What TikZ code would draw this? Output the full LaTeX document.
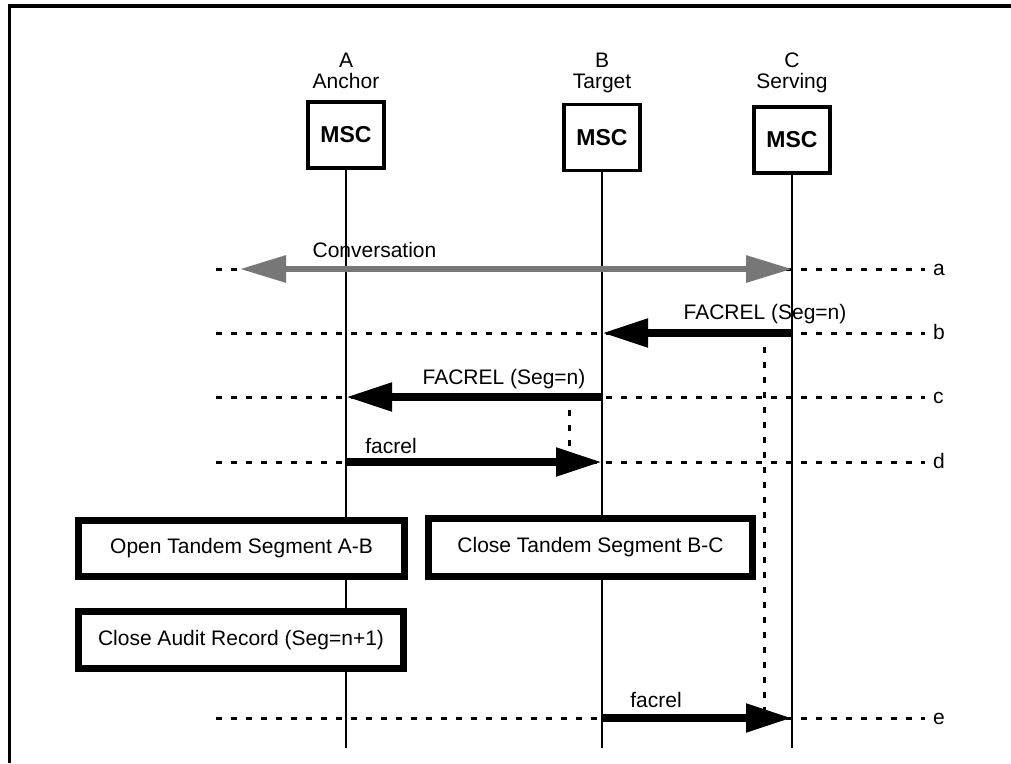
\documentclass[tikz,border=0pt]{standalone}
\usepackage{fontspec}
\setmainfont{Liberation Sans}
\usetikzlibrary{arrows.meta}
\definecolor{convgray}{RGB}{119,119,119}
\tikzset{
  msc/.style={draw, line width=3.5pt, fill=white, minimum width=76pt, minimum height=66pt,
    font=\fontsize{23}{23}\selectfont\bfseries},
  lifeline/.style={line width=2.2pt},
  rowline/.style={line width=3pt, dash pattern=on 6pt off 9pt},
  msg/.style={line width=8pt, -{Triangle[length=46pt,width=27pt]}},
  conv/.style={line width=6pt, draw=convgray,
    {Triangle[length=46pt,width=26pt]}-{Triangle[length=46pt,width=26pt]}},
  actionbox/.style={draw, line width=7.5pt, fill=white},
  txt/.style={anchor=base, inner sep=0pt},
}
\begin{document}
\begin{tikzpicture}[x=1pt, y=-1pt, font=\fontsize{21}{21}\selectfont]
  \useasboundingbox (0,0) rectangle (1011,763);
  % frame, top and left edges only
  \draw[line width=3.5pt] (9.5,763) -- (9.5,6) -- (1011,6);

  % the three MSCs
  \node[txt] (idA)   at (346,67) {A};
  \node[txt] (roleA) at (346,88) {Anchor};
  \node[txt] (idB)   at (602,67) {B};
  \node[txt] (roleB) at (602,88) {Target};
  \node[txt] (idC)   at (792,67) {C};
  \node[txt] (roleC) at (792,88) {Serving};
  \node[msc] (mscA) at (346,135)   {MSC};
  \node[msc] (mscB) at (602,137.5) {MSC};
  \node[msc] (mscC) at (792,140)   {MSC};

  % lifelines
  \coordinate (endA) at (346,748);
  \coordinate (endB) at (602,748);
  \coordinate (endC) at (792,748);
  \draw[lifeline] (mscA) -- (endA);
  \draw[lifeline] (mscB) -- (endB);
  \draw[lifeline] (mscC) -- (endC);

  % time rows a..e
  \foreach \r/\y in {a/269, b/333, c/397, d/462, e/718} {
    \coordinate (L\r) at (216,\y);
    \coordinate (R\r) at (925,\y);
    \coordinate (A\r) at (346,\y);
    \coordinate (B\r) at (602,\y);
    \coordinate (C\r) at (792,\y);
    \draw[rowline] (L\r) -- (R\r);
    \node[anchor=base west, inner sep=0pt] (tag\r) at (933,{\y+6}) {\r};
  }

  % a: conversation
  \coordinate (convL) at (240,269);
  \draw[conv] (convL) -- (Ca);
  \node[txt] (convlbl) at (374.5,257) {Conversation};

  % b: C -> B
  \draw[msg] (Cb) -- (Bb);
  \node[txt] (msgb) at (765,319) {FACREL (Seg=n)};

  % c: B -> A
  \draw[msg] (Bc) -- (Ac);
  \node[txt] (msgc) at (504,384) {FACREL (Seg=n)};

  % d: A -> B
  \draw[msg] (Ad) -- (Bd);
  \node[txt] (msgd) at (391,453) {facrel};

  % e: B -> C
  \draw[msg] (Be) -- (Ce);
  \node[txt] (msge) at (656,707) {facrel};

  % response timers
  \coordinate (tcTop) at (569,410);
  \coordinate (tcBot) at (569,448);
  \coordinate (tbTop) at (764,347);
  \coordinate (tbBot) at (764,711);
  \draw[rowline] (tcTop) -- (tcBot);
  \draw[rowline] (tbTop) -- (tbBot);

  % actions
  \node[actionbox, minimum width=326pt, minimum height=56pt] (openAB)  at (241.5,548.5) {Open Tandem Segment A-B};
  \node[actionbox, minimum width=324pt, minimum height=58pt] (closeBC) at (590.5,547.5) {Close Tandem Segment B-C};
  \node[actionbox, minimum width=325pt, minimum height=57pt] (audit)   at (241,640)     {Close Audit Record (Seg=n+1)};
\end{tikzpicture}
\end{document}
